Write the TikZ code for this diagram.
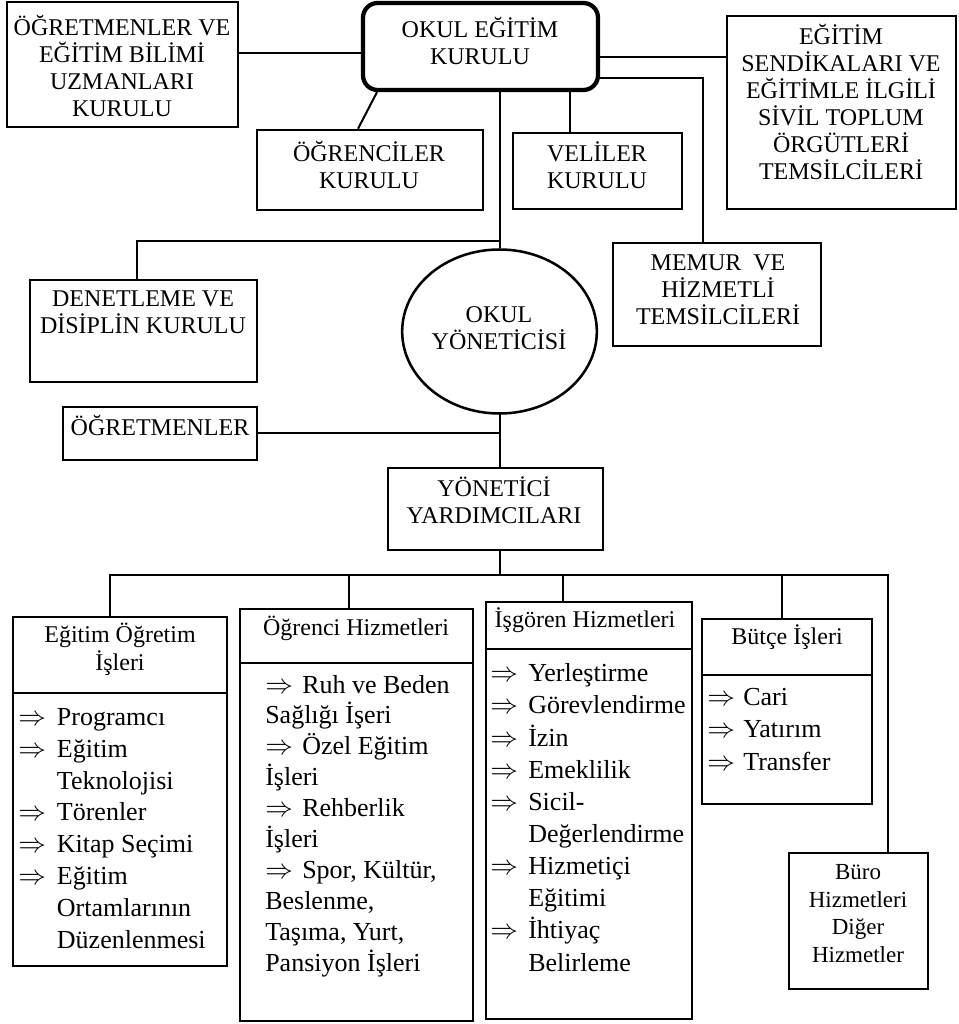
\documentclass[tikz,border=0pt]{standalone}
\usepackage{fontspec}
\setmainfont{Liberation Serif}
\usetikzlibrary{fit,shapes.geometric}
% arrow bullet of fixed width, and the matching indent for wrapped lines
\newcommand\imp[1]{\makebox[#1][l]{$\Rightarrow$}}
\newcommand\ind[1]{\hspace*{#1}}
\begin{document}
\begin{tikzpicture}[x=0.75pt,y=-0.75pt,
  box/.style={draw, line width=1.9pt, inner sep=0pt},
  lbl/.style={inner sep=0pt, align=center, font=\fontsize{18}{20.25}\selectfont},
  lst/.style={inner sep=0pt, align=left, anchor=west},
  wire/.style={line width=1.5pt}]
\useasboundingbox (0,0) rectangle (959,1024);

% ---- boards around the school education board
\node[box, rounded corners=11pt, line width=3.2pt, fit={(363,3)(598,90)}] (oek) {};
\node[lbl] (oek-t) at (480,41) {OKUL EĞİTİM\\KURULU};

\node[box, fit={(7,2)(238,127)}] (obk) {};
\node[lbl] (obk-t) at (122,65.5) {ÖĞRETMENLER VE\\EĞİTİM BİLİMİ\\UZMANLARI\\KURULU};

\node[box, fit={(257,130)(483,210)}] (ogr) {};
\node[lbl] (ogr-t) at (369,165) {ÖĞRENCİLER\\KURULU};

\node[box, fit={(513,133)(682,209)}] (vel) {};
\node[lbl] (vel-t) at (597,165) {VELİLER\\KURULU};

\node[box, fit={(727,16)(956,209)}] (sen) {};
\node[lbl] (sen-t) at (841,101.5) {EĞİTİM\\SENDİKALARI VE\\EĞİTİMLE İLGİLİ\\SİVİL TOPLUM\\ÖRGÜTLERİ\\TEMSİLCİLERİ};

\node[box, fit={(613,243)(821,346)}] (mem) {};
\node[lbl] (mem-t) at (718,289.5) {MEMUR\ \ VE\\HİZMETLİ\\TEMSİLCİLERİ};

\node[box, ellipse, minimum width=146pt, minimum height=123pt] (ell) at (499.5,331.5) {};
\node[lbl] (ell-t) at (499,328) {OKUL\\YÖNETİCİSİ};

\node[box, fit={(30,280)(257,382)}] (den) {};
\node[lbl] (den-t) at (143,312.5) {DENETLEME VE\\DİSİPLİN KURULU};

\node[box, fit={(63,407)(257,460)}] (ogt) {};
\node[lbl] (ogt-t) at (160,425) {ÖĞRETMENLER};

\node[box, fit={(388,468)(603,550)}] (yon) {};
\node[lbl] (yon-t) at (494,500.5) {YÖNETİCİ\\YARDIMCILARI};

% ---- departments
\node[box, fit={(13,617)(227,966)}] (eo) {};
\draw[wire] (eo.west |- 0,693) -- (eo.east |- 0,693);
\node[lbl, font=\fontsize{18}{21}\selectfont] (eo-t) at (120,649) {Eğitim Öğretim\\İşleri};
\node[lst, font=\fontsize{19.5}{23.9}\selectfont] (eo-l) at (18,828.5)
  {\imp{29pt}Programcı\\\imp{29pt}Eğitim\\\ind{29pt}Teknolojisi\\\imp{29pt}Törenler\\
   \imp{29pt}Kitap Seçimi\\\imp{29pt}Eğitim\\\ind{29pt}Ortamlarının\\\ind{29pt}Düzenlenmesi};

\node[box, fit={(240,609)(473,1021)}] (oh) {};
\draw[wire] (oh.west |- 0,663) -- (oh.east |- 0,663);
\node[lbl] (oh-t) at (356,628) {Öğrenci Hizmetleri};
\node[lst, font=\fontsize{19.5}{23.2}\selectfont] (oh-l) at (265,826)
  {\imp{27.75pt}Ruh ve Beden\\Sağlığı İşeri\\\imp{27.75pt}Özel Eğitim\\İşleri\\
   \imp{27.75pt}Rehberlik\\İşleri\\\imp{27.75pt}Spor, Kültür,\\Beslenme,\\Taşıma, Yurt,\\Pansiyon İşleri};

\node[box, fit={(486,602)(692,1019)}] (ih) {};
\draw[wire] (ih.west |- 0,649) -- (ih.east |- 0,649);
\node[lbl] (ih-t) at (585,620) {İşgören Hizmetleri};
\node[lst, font=\fontsize{19.5}{24.1}\selectfont] (ih-l) at (490,817.5)
  {\imp{28.5pt}Yerleştirme\\\imp{28.5pt}Görevlendirme\\\imp{28.5pt}İzin\\\imp{28.5pt}Emeklilik\\
   \imp{28.5pt}Sicil-\\\ind{28.5pt}Değerlendirme\\\imp{28.5pt}Hizmetiçi\\\ind{28.5pt}Eğitimi\\
   \imp{28.5pt}İhtiyaç\\\ind{28.5pt}Belirleme};

\node[box, fit={(702,619)(872,804)}] (bi) {};
\draw[wire] (bi.west |- 0,675) -- (bi.east |- 0,675);
\node[lbl] (bi-t) at (787,637) {Bütçe İşleri};
\node[lst, font=\fontsize{19.5}{24.4}\selectfont] (bi-l) at (707,729.5)
  {\imp{27pt}Cari\\\imp{27pt}Yatırım\\\imp{27pt}Transfer};

\node[box, fit={(789,853)(928,989)}] (bh) {};
\node[lbl, font=\fontsize{17.25}{20.8}\selectfont] (bh-t) at (858,913.5) {Büro\\Hizmetleri\\Diğer\\Hizmetler};

% ---- connectors
\draw[wire] (obk.east |- 0,53) -- (oek.west |- 0,53);
\draw[wire] (oek.south -| 377,0) -- (ogr.north -| 358,0);
\draw[wire] (oek.south -| ell.north) -- (ell.north);
\draw[wire] (ell.north |- 0,241) -| (den.north -| 137,0);
\draw[wire] (oek.south -| 570,0) -- (vel.north -| 570,0);
\draw[wire] (oek.east |- 0,57) -- (sen.west |- 0,57);
\draw[wire] (oek.east |- 0,78) -| (mem.north -| 703,0);
\draw[wire] (ell.south) -- (yon.north -| ell.south);
\draw[wire] (ogt.east |- 0,433) -- (ell.south |- 0,433);
\draw[wire] (yon.south -| ell.south) -- (ell.south |- 0,575) coordinate (hub);
\draw[wire] (eo.north -| 110,0) |- (hub);
\draw[wire] (hub) -| (bh.north -| 888,0);
\draw[wire] (hub -| 349,0) -- (oh.north -| 349,0);
\draw[wire] (hub -| 563,0) -- (ih.north -| 563,0);
\draw[wire] (hub -| 782,0) -- (bi.north -| 782,0);
\end{tikzpicture}
\end{document}
